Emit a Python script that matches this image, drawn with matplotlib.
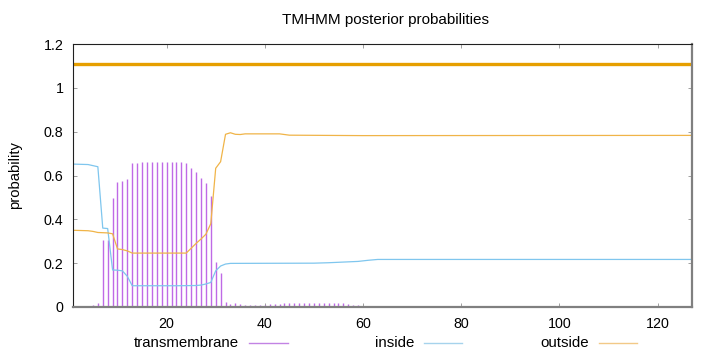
import numpy as np
import matplotlib
matplotlib.use('Agg')
import matplotlib.pyplot as plt
from matplotlib.lines import Line2D

plt.rcParams['font.family'] = ['Liberation Sans', 'DejaVu Sans']
plt.rcParams['font.size'] = 10

# TMHMM posterior probabilities, residues 1..127
seq_len = 127

# transmembrane probability per residue (1..64, rest zero)
tm_prob = [0.0, 0.0, 0.0, 0.0, 0.010, 0.018, 0.305, 0.305, 0.496, 0.570,
           0.575, 0.585, 0.658, 0.658, 0.661, 0.662, 0.662, 0.662, 0.662, 0.662,
           0.661, 0.661, 0.660, 0.655, 0.633, 0.614, 0.590, 0.564, 0.508, 0.207,
           0.157, 0.021, 0.012, 0.018, 0.012, 0.010, 0.008, 0.010, 0.008, 0.010,
           0.012, 0.012, 0.015, 0.018, 0.020, 0.020, 0.020, 0.020, 0.020, 0.020,
           0.018, 0.018, 0.018, 0.018, 0.016, 0.016, 0.014, 0.010, 0.008, 0.006,
           0.005, 0.004, 0.003, 0.002]

# inside probability (residue, value) where the curve changes
inside_x = [1, 4, 5, 6, 7, 8, 9, 10, 11, 12, 13, 22, 26, 27, 28, 29, 30, 31, 32, 33,
            50, 53, 56, 59, 61, 63, 127]
inside_y = [0.652, 0.650, 0.645, 0.640, 0.360, 0.358, 0.169, 0.168, 0.165, 0.140,
            0.097, 0.097, 0.098, 0.100, 0.105, 0.112, 0.165, 0.187, 0.196, 0.199,
            0.200, 0.202, 0.205, 0.208, 0.213, 0.217, 0.217]

# outside probability
outside_x = [1, 4, 5, 6, 8, 9, 10, 11, 12, 13, 24, 25, 26, 27, 28, 29, 30, 31, 32,
             33, 34, 35, 36, 43, 45, 60, 127]
outside_y = [0.350, 0.348, 0.345, 0.340, 0.338, 0.334, 0.265, 0.262, 0.256, 0.246,
             0.246, 0.268, 0.290, 0.310, 0.332, 0.380, 0.633, 0.663, 0.788, 0.795,
             0.788, 0.787, 0.790, 0.790, 0.784, 0.782, 0.783]

# predicted topology: whole sequence outside
topo_start, topo_end, topo_level = 1, 127, 1.11

c_tm = '#bf6ae6'
c_in = '#7fc6ee'
c_out = '#f0b448'
c_topo = '#e69f00'

fig = plt.figure(figsize=(7.2, 3.52), dpi=100)
ax = fig.add_axes([73.3 / 720, 45 / 352, (692 - 73.3) / 720, (307 - 44) / 352])

tm_x = np.arange(1, len(tm_prob) + 1)
ax.vlines(tm_x, 0, tm_prob, color=c_tm, lw=1.0)
ax.plot(inside_x, inside_y, color=c_in, lw=0.9)
ax.plot(outside_x, outside_y, color=c_out, lw=0.9)
ax.plot([topo_start, topo_end], [topo_level, topo_level], color=c_topo, lw=2.4,
        solid_capstyle='butt')

ax.set_xlim(1, seq_len)
ax.set_ylim(0, 1.2)
ax.set_xticks([20, 40, 60, 80, 100, 120])
ax.set_yticks([0, 0.2, 0.4, 0.6, 0.8, 1.0, 1.2])
ax.set_yticklabels(['0', '0.2', '0.4', '0.6', '0.8', '1', '1.2'])
ax.tick_params(direction='in', length=3, width=0.6, color='#909090',
               top=True, right=True, labelsize=10.3, pad=7)

for side in ['left', 'top']:
    ax.spines[side].set_color('#202020')
    ax.spines[side].set_linewidth(0.8)
for side in ['right', 'bottom']:
    ax.spines[side].set_color('#808080')
    ax.spines[side].set_linewidth(1.6)

fig.text(386 / 720, 1 - 20 / 352, 'TMHMM posterior probabilities',
         ha='center', va='center', fontsize=11)
fig.text(15 / 720, 1 - 175 / 352, 'probability', rotation=90,
         ha='center', va='center', fontsize=10.6)

# key at the bottom, gnuplot style: label then sample line
key_y = 1 - 343 / 352
keys = [('transmembrane', '#c283e4', 239, 249, 288),
        ('inside', '#a6d3ec', 414, 424, 462),
        ('outside', '#f2c987', 589, 599, 637)]
for label, col, tx, x0, x1 in keys:
    fig.text(tx / 720, key_y, label, ha='right', va='center', fontsize=10.8)
    fig.add_artist(Line2D([x0 / 720, x1 / 720], [key_y, key_y], color=col,
                          lw=1.0, transform=fig.transFigure))

fig.savefig('out.png', dpi=100)
